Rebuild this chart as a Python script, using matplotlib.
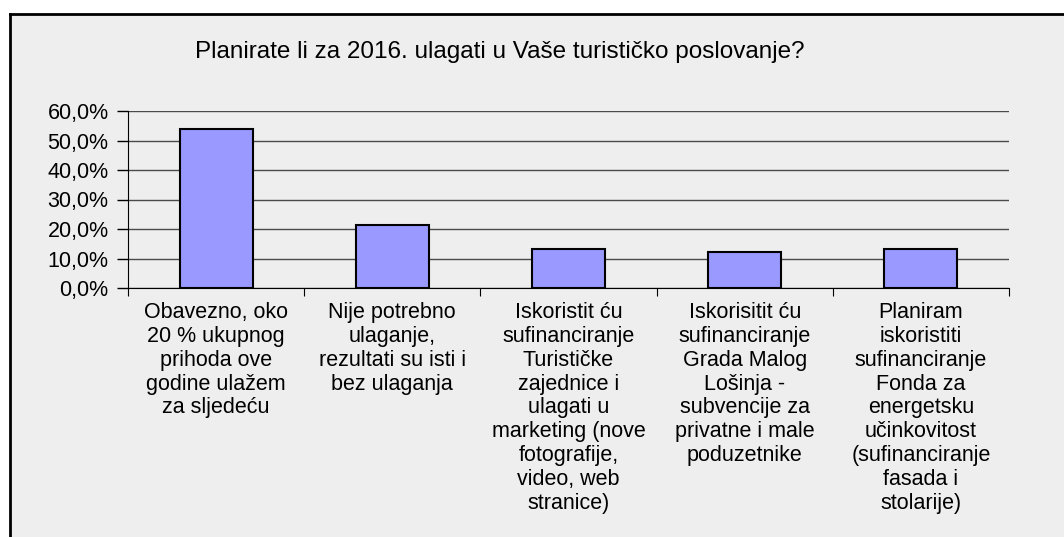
import matplotlib.pyplot as plt
from matplotlib.patches import Rectangle
from matplotlib.lines import Line2D
from matplotlib.ticker import FuncFormatter

plt.rcParams['font.family'] = ['Liberation Sans', 'DejaVu Sans']

title = 'Planirate li za 2016. ulagati u Vaše turističko poslovanje?'
categories = [
    'Obavezno, oko\n20 % ukupnog\nprihoda ove\ngodine ulažem\nza sljedeću',
    'Nije potrebno\nulaganje,\nrezultati su isti i\nbez ulaganja',
    'Iskoristit ću\nsufinanciranje\nTurističke\nzajednice i\nulagati u\nmarketing (nove\nfotografije,\nvideo, web\nstranice)',
    'Iskorisitit ću\nsufinanciranje\nGrada Malog\nLošinja -\nsubvencije za\nprivatne i male\npoduzetnike',
    'Planiram\niskoristiti\nsufinanciranje\nFonda za\nenergetsku\nučinkovitost\n(sufinanciranje\nfasada i\nstolarije)',
]
values = [0.538, 0.213, 0.132, 0.122, 0.132]
yticks = [0.0, 0.1, 0.2, 0.3, 0.4, 0.5, 0.6]

W, H = 1064, 537
fig = plt.figure(figsize=(W / 100, H / 100), dpi=100)
fig.patch.set_facecolor('white')

# grey chart area with black top/left frame
fig.patches.append(Rectangle((10 / W, 0), 1, 1 - 14 / H, transform=fig.transFigure,
                             facecolor='#eeeeee', edgecolor='none', zorder=-10))
fig.lines.append(Line2D([10 / W, 1], [1 - 14 / H] * 2, transform=fig.transFigure, color='black', lw=2, zorder=-5))
fig.lines.append(Line2D([10 / W] * 2, [0, 1 - 14 / H], transform=fig.transFigure, color='black', lw=2, zorder=-5))

ax = fig.add_axes([128 / W, 1 - 288 / H, (1009 - 128) / W, (288 - 111) / H])
ax.set_facecolor('none')

x = list(range(len(values)))
ax.bar(x, values, width=0.414, color='#9999ff', edgecolor='black', linewidth=1.5, zorder=3)

ax.set_xlim(-0.5, len(values) - 0.5)
ax.set_ylim(0, 0.6)
ax.set_yticks(yticks)
ax.yaxis.set_major_formatter(FuncFormatter(lambda v, p: f'{v * 100:.1f}%'.replace('.', ',')))
ax.grid(axis='y', color='#4a4a4a', linewidth=1, zorder=1)

ax.set_xticks([i - 0.5 for i in range(len(values) + 1)])
ax.set_xticklabels([])
ax.set_xticks(x, minor=True)
ax.set_xticklabels(categories, minor=True, fontsize=15.5, linespacing=1.18)
ax.tick_params(axis='x', which='major', length=6, direction='out', color='black')
ax.tick_params(axis='x', which='minor', length=0, pad=10)
ax.tick_params(axis='y', length=8, width=1, labelsize=15.5, pad=6, color='black')

for s in ['top', 'right']:
    ax.spines[s].set_visible(False)
ax.spines['left'].set_color('black')
ax.spines['bottom'].set_color('black')

fig.text(500 / W, 1 - 52 / H, title, ha='center', va='center', fontsize=17.5)

fig.savefig('out.png', dpi=100)
